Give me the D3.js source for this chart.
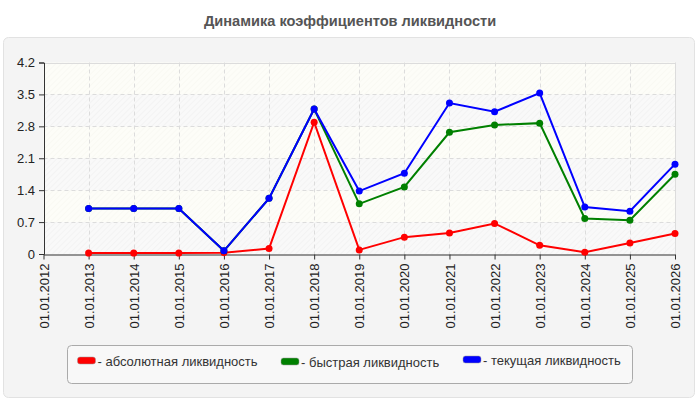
<!DOCTYPE html>
<html>
<head>
<meta charset="utf-8">
<script src="https://cdn.jsdelivr.net/npm/d3@7"></script>
<style>
body { margin: 0; background: #fff; font-family: Arial, "Liberation Sans", sans-serif; }
</style>
</head>
<body>
<script>
var width = 700, height = 400;

var years = ["2012","2013","2014","2015","2016","2017","2018","2019","2020","2021","2022","2023","2024","2025","2026"];
var dates = years.map(function(y) { return "01.01." + y; });
var yTicks = [0, 0.7, 1.4, 2.1, 2.8, 3.5, 4.2];

// values start at 01.01.2013
var absolute = [0.02, 0.02, 0.02, 0.03, 0.12, 2.89, 0.09, 0.37, 0.46, 0.67, 0.19, 0.04, 0.24, 0.45];
var quick    = [1.0, 1.0, 1.0, 0.07, 1.22, 3.18, 1.10, 1.47, 2.67, 2.83, 2.87, 0.78, 0.74, 1.75];
var current  = [1.0, 1.0, 1.0, 0.07, 1.22, 3.18, 1.38, 1.77, 3.31, 3.12, 3.53, 1.03, 0.94, 1.97];

var seriesNames = ["- абсолютная ликвидность", "- быстрая ликвидность", "- текущая ликвидность"];
var seriesColors = ["#ff0000", "#008000", "#0000ff"];

var margin = {left: 43.5, right: 25, top: 62.5, bottom: 146};
var font = "Arial, 'Liberation Sans', sans-serif";

var svg = d3.select("body").append("svg")
    .attr("width", width)
    .attr("height", height);

// patterns for the plot bands
var defs = svg.append("defs");
function hatch(id, bg, line) {
    var p = defs.append("pattern").attr("id", id)
        .attr("patternUnits", "userSpaceOnUse")
        .attr("width", 4).attr("height", 4)
        .attr("patternTransform", "rotate(45)");
    p.append("rect").attr("width", 4).attr("height", 4).attr("fill", bg);
    p.append("line").attr("x1", 0).attr("y1", 0).attr("x2", 0).attr("y2", 4)
        .attr("stroke", line).attr("stroke-width", 1);
}
hatch("bandA", "#fdfdf8", "#f5f5ef");
hatch("bandB", "#f9f9f9", "#eeeeee");

// title
svg.append("text")
    .attr("x", 350).attr("y", 26)
    .attr("text-anchor", "middle")
    .attr("font-size", "14.6px")
    .attr("font-weight", "bold")
    .attr("fill", "#555")
    .text("Динамика коэффициентов ликвидности");

// panel
svg.append("rect")
    .attr("x", 3.5).attr("y", 37.5)
    .attr("width", 691).attr("height", 360)
    .attr("rx", 5)
    .attr("fill", "#f4f4f4")
    .attr("stroke", "#e2e2e2");

var x = d3.scalePoint()
    .domain(dates)
    .range([margin.left, width - margin.right]);

var y = d3.scaleLinear()
    .domain([0, 4.2])
    .range([height - margin.bottom, margin.top]);

var plot = svg.append("g");

// bands
var bands = d3.pairs(yTicks);
plot.selectAll(".band")
    .data(bands)
    .enter().append("rect")
    .attr("x", x.range()[0])
    .attr("width", x.range()[1] - x.range()[0])
    .attr("y", function(d) { return y(d[1]); })
    .attr("height", function(d) { return y(d[0]) - y(d[1]); })
    .attr("fill", function(d, i) { return i % 2 == 0 ? "url(#bandB)" : "url(#bandA)"; });

// grid
plot.selectAll(".hgrid")
    .data(yTicks.slice(1))
    .enter().append("line")
    .attr("x1", x.range()[0]).attr("x2", x.range()[1])
    .attr("y1", function(d) { return Math.round(y(d)) + 0.5; })
    .attr("y2", function(d) { return Math.round(y(d)) + 0.5; })
    .attr("stroke", "#dcdcdc")
    .attr("stroke-dasharray", function(d) { return d == 4.2 ? null : "4,3"; });

plot.selectAll(".vgrid")
    .data(dates.slice(1))
    .enter().append("line")
    .attr("x1", function(d) { return Math.round(x(d)) + 0.5; })
    .attr("x2", function(d) { return Math.round(x(d)) + 0.5; })
    .attr("y1", y(4.2)).attr("y2", y(0))
    .attr("stroke", "#dcdcdc")
    .attr("stroke-dasharray", function(d, i) { return i == dates.length - 2 ? null : "4,3"; });

// axes
var yAxis = svg.append("g")
    .attr("transform", "translate(" + Math.round(margin.left) + ",0)")
    .call(d3.axisLeft(y).tickValues(yTicks).tickSize(5).tickFormat(function(d) { return d; }));
yAxis.select(".domain").attr("stroke", "#333");
yAxis.selectAll(".tick line").attr("stroke", "#333");
yAxis.selectAll("text").attr("font-size", "13px").attr("fill", "#222")
    .attr("font-family", font).attr("dx", "-1");

var xAxis = svg.append("g")
    .attr("transform", "translate(0," + (Math.round(y(0)) + 0.5) + ")")
    .call(d3.axisBottom(x).tickSize(5).tickSizeOuter(0));
xAxis.select(".domain").attr("stroke", "#333");
xAxis.selectAll(".tick line").attr("stroke", "#333");
xAxis.selectAll("text")
    .attr("font-size", "13px").attr("fill", "#222")
    .attr("font-family", font)
    .attr("text-anchor", "end")
    .attr("transform", "rotate(-90)")
    .attr("x", -9).attr("y", 0).attr("dy", "0.35em");

// series
var allSeries = [absolute, quick, current];
var line = d3.line()
    .x(function(d, i) { return x(dates[i + 1]); })
    .y(function(d) { return y(d); });

allSeries.forEach(function(values, s) {
    var g = svg.append("g");
    g.append("path")
        .datum(values)
        .attr("fill", "none")
        .attr("stroke", seriesColors[s])
        .attr("stroke-width", 2)
        .attr("d", line);
    g.selectAll("circle")
        .data(values)
        .enter().append("circle")
        .attr("cx", function(d, i) { return x(dates[i + 1]); })
        .attr("cy", function(d) { return y(d); })
        .attr("r", 3.5)
        .attr("fill", seriesColors[s]);
});

// legend
var legend = svg.append("g");
legend.append("rect")
    .attr("x", 67.5).attr("y", 345.5)
    .attr("width", 565).attr("height", 38)
    .attr("rx", 4)
    .attr("fill", "#f8f8f8")
    .attr("stroke", "#aaa");

var legendX = [77.5, 281, 463];
var legendY = [357, 358, 356];
seriesNames.forEach(function(name, i) {
    legend.append("rect")
        .attr("x", legendX[i]).attr("y", legendY[i])
        .attr("width", 18).attr("height", 7)
        .attr("rx", 2.5)
        .attr("fill", seriesColors[i])
        .attr("stroke", "#999").attr("stroke-width", 0.5);
    legend.append("text")
        .attr("x", legendX[i] + 20).attr("y", legendY[i] + 8.5)
        .attr("font-size", "13px")
        .attr("font-family", font)
        .attr("fill", "#333")
        .text(name);
});
</script>
</body>
</html>
